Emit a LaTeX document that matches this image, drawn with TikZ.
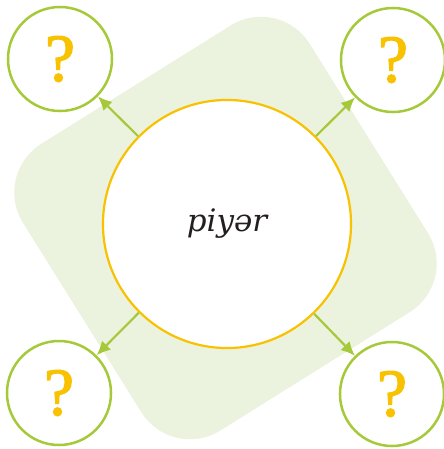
\documentclass[tikz,border=0pt]{standalone}
\usepackage{fontspec}
\setmainfont{DejaVu Serif}
\newfontfamily\askfont[FakeBold=2]{Liberation Serif}
\usetikzlibrary{arrows.meta}
\definecolor{qgreen}{HTML}{A6C93A}
\definecolor{qyellow}{HTML}{F8C200}
\definecolor{qback}{HTML}{EBF3DF}
\definecolor{qtext}{HTML}{231F20}
\begin{document}
\begin{tikzpicture}[x=0.025cm,y=-0.025cm,
  word/.style={circle,draw=qyellow,line width=0.055cm,fill=white,minimum size=6.2cm,inner sep=0pt,
    text=qtext,font=\itshape\fontsize{22}{26}\selectfont},
  ask/.style={circle,draw=qgreen,line width=0.0625cm,fill=white,minimum size=2.6cm,inner sep=0pt,
    text=qyellow,font=\askfont\fontsize{48}{56}\selectfont},
  link/.style={qgreen,line width=0.055cm,-{Latex[length=0.35cm,width=0.32cm]}}]

\useasboundingbox (0,0) rectangle (443,449);
\fill[qback,rounded corners=1.43cm,rotate around={32:(225.5,228)}] (56.5,59) rectangle (394.5,397);

\node[word] (piyer) at (227,224) {piyər};
\node[ask] (tl) at (60,59) {?};
\node[ask] (tr) at (393,60) {?};
\node[ask] (bl) at (59,393) {?};
\node[ask] (br) at (392,394) {?};

\foreach \q in {tl,tr,bl,br}
  \draw[link] (piyer) -- (\q);
\end{tikzpicture}
\end{document}
